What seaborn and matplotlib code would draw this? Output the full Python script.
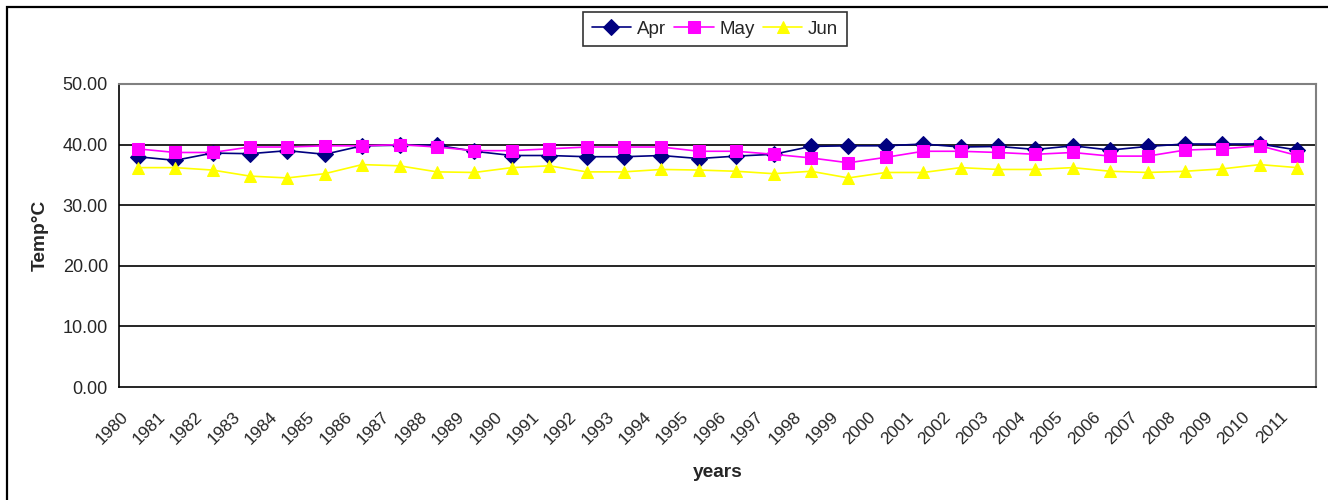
import numpy as np
import pandas as pd
import matplotlib
matplotlib.use("Agg")
import matplotlib.pyplot as plt
import matplotlib.transforms as mtrans
from matplotlib.patches import Rectangle
import seaborn as sns

years = [str(y) for y in range(1980, 2012)]
apr = [38.0, 37.4, 38.6, 38.5, 39.0, 38.4, 39.8, 39.9,
       39.9, 38.9, 38.2, 38.2, 38.0, 38.0, 38.2, 37.7,
       38.1, 38.4, 39.7, 39.8, 39.8, 40.1, 39.6, 39.7,
       39.2, 39.8, 39.1, 39.7, 40.1, 40.1, 40.1, 39.1]
may = [39.3, 38.7, 38.7, 39.6, 39.6, 39.8, 39.8, 40.0,
       39.6, 39.0, 39.0, 39.3, 39.6, 39.6, 39.6, 38.9,
       38.9, 38.4, 37.8, 37.0, 37.9, 38.9, 38.9, 38.7,
       38.4, 38.7, 38.1, 38.1, 39.1, 39.3, 39.8, 38.2]
jun = [36.2, 36.2, 35.8, 34.8, 34.5, 35.2, 36.7, 36.5,
       35.5, 35.4, 36.2, 36.5, 35.5, 35.5, 35.9, 35.8,
       35.6, 35.2, 35.6, 34.5, 35.4, 35.4, 36.2, 35.9,
       35.9, 36.2, 35.6, 35.4, 35.6, 36.0, 36.7, 36.2]
months = ["Apr", "May", "Jun"]

df = pd.DataFrame({"idx": list(range(len(years))) * 3,
                   "temp": apr + may + jun,
                   "month": [m for m in months for _ in years]})

sns.set_style("white")
plt.rcParams["font.family"] = ["Liberation Sans", "DejaVu Sans"]

fig = plt.figure(figsize=(13.28, 5), dpi=100)
ax = fig.add_axes([119/1328, 113/500, (1316-119)/1328, (387-84)/500])

pal = {"Apr": "#000080", "May": "#FF00FF", "Jun": "#FFFF00"}
mk = {"Apr": "D", "May": "s", "Jun": "^"}
sns.lineplot(data=df, x="idx", y="temp", hue="month", style="month",
             hue_order=months, style_order=months, palette=pal,
             markers=mk, dashes=False, markersize=8, linewidth=1.2,
             markeredgecolor=None, legend=False, ax=ax, clip_on=False)

n = len(years)
ax.set_xlim(-0.5, n - 0.5)
ax.set_ylim(0, 50)
ax.set_yticks(np.arange(0, 51, 10))
ax.set_yticklabels([f"{v:.2f}" for v in np.arange(0, 51, 10)], fontsize=13)
ax.set_xticks(range(n))
ax.set_xticklabels(years, fontsize=12.5, rotation=45, ha="right", va="top")
ax.set_xticks(np.arange(-0.5, n, 1), minor=True)
ax.tick_params(axis="x", which="major", length=0, pad=16)
ax.tick_params(axis="x", which="minor", length=4, width=1.2, color="black", direction="out")
ax.tick_params(axis="y", length=5, width=1.2, color="black", direction="out", pad=3)
# labels in the picture sit a bit left of the point they belong to
shift = mtrans.ScaledTranslation(-7/100, 0, fig.dpi_scale_trans)
for lbl in ax.get_xticklabels():
    lbl.set_transform(lbl.get_transform() + shift)

for v in [10, 20, 30, 40]:
    ax.axhline(v, color="black", lw=1.2, zorder=0)
for s in ["left", "bottom"]:
    ax.spines[s].set_color("black")
    ax.spines[s].set_linewidth(1.2)
for s in ["top", "right"]:
    ax.spines[s].set_color("#808080")
    ax.spines[s].set_linewidth(1.5)

ax.set_xlabel("years", fontsize=13.8, fontweight="bold")
ax.set_ylabel("Temp°C", fontsize=13.8, fontweight="bold")
ax.xaxis.set_label_coords(0.5, -0.255)
ax.yaxis.set_label_coords(-0.0585, 0.5)

leg = fig.legend(ax.get_lines()[:3], months, loc="center", bbox_to_anchor=(715/1328, 1 - 29.5/500),
                 ncol=3, fontsize=13.5, frameon=True, fancybox=False, edgecolor="black",
                 handlelength=2.1, columnspacing=0.45, handletextpad=0.3, borderpad=0.45,
                 borderaxespad=0)
leg.get_frame().set_linewidth(1.2)

# outer chart frame, runs off the right and bottom edge like the original
fig.patches.append(Rectangle((7/1328, -0.1), 1.1, 1.1 - 7/500, transform=fig.transFigure,
                             fill=False, edgecolor="black", lw=1.6, clip_on=False))

fig.savefig("out.png", dpi=100, facecolor="white")
